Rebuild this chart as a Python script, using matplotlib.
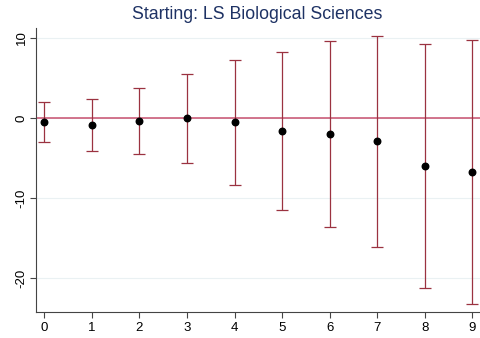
import matplotlib
matplotlib.use("Agg")
from matplotlib import pyplot as plt
import numpy as np

plt.rcParams["font.family"] = ["Liberation Sans", "DejaVu Sans"]

# Coeficientes por periodo con sus intervalos de confianza
periodos = [0, 1, 2, 3, 4, 5, 6, 7, 8, 9]
coef = [-0.55, -0.9, -0.4, 0.0, -0.55, -1.6, -2.0, -2.9, -6.0, -6.7]
ic_sup = [1.95, 2.4, 3.75, 5.55, 7.3, 8.3, 9.6, 10.25, 9.2, 9.8]
ic_inf = [-3.05, -4.15, -4.45, -5.6, -8.4, -11.5, -13.6, -16.1, -21.2, -23.2]
yticks = [10, 0, -10, -20]
titulo = "Starting: LS Biological Sciences"

rojo_ic = "#9b3240"
rojo_cero = "#c8506e"
azul_titulo = "#1e3264"

fig = plt.figure(figsize=(4.81, 3.38), dpi=100)
ax = fig.add_axes([0.075, 0.078, 0.925, 0.839])

coef = np.array(coef)
err = [coef - np.array(ic_inf), np.array(ic_sup) - coef]

for y in yticks:
    ax.axhline(y, color="#eaf1f3", lw=0.8, zorder=0)
ax.axhline(0, color=rojo_cero, lw=1.1, zorder=1)

ax.errorbar(periodos, coef, yerr=err, fmt="none", ecolor=rojo_ic,
            elinewidth=0.9, capsize=4.3, capthick=0.9, zorder=2)
ax.scatter(periodos, coef, s=22, color="black", zorder=3)

ax.set_xlim(-0.17, 9.18)
ax.set_ylim(-24.2, 11.25)
ax.set_xticks(periodos)
ax.set_yticks(yticks)
ax.set_yticklabels([str(v) for v in yticks], rotation=90, va="center")
ax.tick_params(axis="both", labelsize=9.5, length=4, width=0.8, color="#444444")
ax.tick_params(axis="y", pad=2)

for lado in ("top", "right"):
    ax.spines[lado].set_visible(False)
for lado in ("left", "bottom"):
    ax.spines[lado].set_color("#444444")
    ax.spines[lado].set_linewidth(0.8)

fig.text(0.535, 0.958, titulo, ha="center", va="center",
         fontsize=12.8, color=azul_titulo)

plt.savefig("out.png", dpi=100)
